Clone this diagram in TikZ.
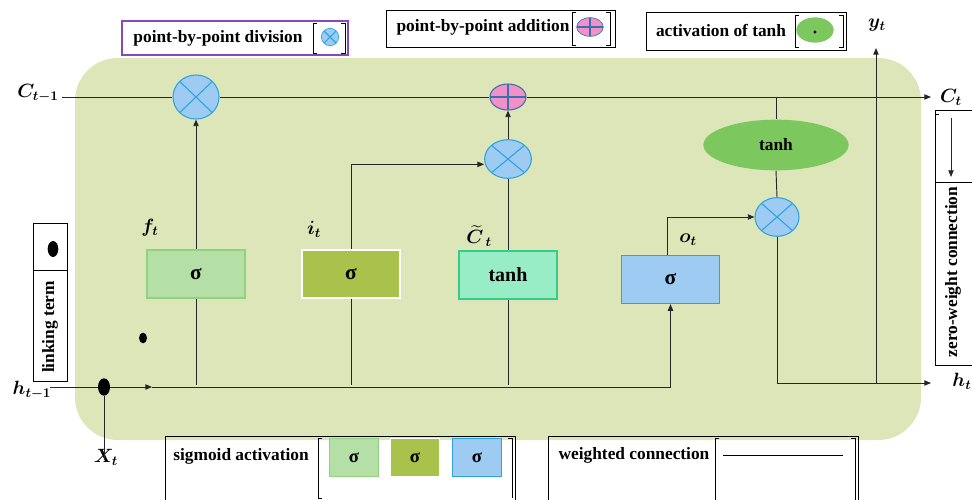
\documentclass[tikz,border=0pt]{standalone}
\usepackage{amsmath}
\usepackage{fontspec}
\setmainfont{Liberation Serif}
\usetikzlibrary{arrows.meta,shapes.geometric}
\definecolor{bgc}{HTML}{DCE6B9}
\definecolor{bfill}{HTML}{9DCBF2}
\definecolor{bline}{HTML}{2FA3E0}
\definecolor{pinkc}{HTML}{F290C8}
\definecolor{pinkl}{HTML}{3A70B0}
\definecolor{tgreen}{HTML}{7CC75E}
\definecolor{ffill}{HTML}{B4E0A8}
\definecolor{fline}{HTML}{8FD47C}
\definecolor{ifill}{HTML}{A9C24B}
\definecolor{cfill}{HTML}{98EDC6}
\definecolor{cline}{HTML}{33CC88}
\definecolor{purp}{HTML}{8848B8}
\newcommand\sig{{\bfseries σ}}
\tikzset{
  x=0.75pt, y=-0.75pt,
  conn/.style={line width=0.7pt, black!85},
  arr/.style={conn, -{Triangle[length=5pt,width=4pt]}},
  mult/.style={ellipse, draw=bline, fill=bfill, line width=0.8pt, inner sep=0pt,
    path picture={\draw[bline, line width=0.8pt] (path picture bounding box.north west) -- (path picture bounding box.south east)
      (path picture bounding box.north east) -- (path picture bounding box.south west);}},
  addn/.style={ellipse, draw=pinkl, fill=pinkc, line width=0.8pt, inner sep=0pt,
    path picture={\draw[pinkl, line width=0.8pt] (path picture bounding box.north) -- (path picture bounding box.south)
      (path picture bounding box.west) -- (path picture bounding box.east);}},
  gate/.style={rectangle, minimum width=73.5pt, minimum height=36pt, inner sep=0pt, line width=0.9pt,
    font=\fontsize{16}{18}\selectfont\bfseries},
  lbl/.style={font=\fontsize{14}{16}\selectfont, inner sep=0pt},
  leg/.style={font=\fontsize{13}{15}\selectfont\bfseries, inner sep=0pt},
  dotn/.style={ellipse, fill=black, inner sep=0pt},
}
\begin{document}
\begin{tikzpicture}
\useasboundingbox (0,0) rectangle (972,500);
% background
\fill[bgc, rounded corners=32pt] (75,58) rectangle (921,440);

% operators
\node[mult, minimum width=34.5pt, minimum height=33pt] (m1) at (196,97) {};
\node[addn, minimum width=27pt, minimum height=19.5pt] (add) at (508,97) {};
\node[mult, minimum width=35pt, minimum height=29pt] (m2) at (508,159) {};
\node[mult, minimum width=33pt, minimum height=29pt] (m3) at (777,217) {};
\node[ellipse, fill=tgreen, minimum width=109pt, minimum height=38pt, inner sep=0pt,
  font=\fontsize{13}{15}\selectfont\bfseries] (tanhE) at (776,145) {tanh};

% gates
\node[gate, fill=ffill, draw=fline] (fbox) at (196,274) {\sig};
\node[gate, fill=ifill, draw=white] (ibox) at (351,274) {\sig};
\node[gate, fill=cfill, draw=cline, font=\fontsize{15}{17}\selectfont\bfseries] (cbox) at (508,275) {tanh};
\node[gate, fill=bfill, draw=bline] (obox) at (670.5,279.5) {\sig};

% labels
\node[lbl] (lC1) at (38,93) {$\boldsymbol{C_{t-1}}$};
\node[lbl] (lCt) at (951,97) {$\boldsymbol{C_{t}}$};
\node[lbl] (lh1) at (32,390) {$\boldsymbol{h_{t-1}}$};
\node[lbl] (lht) at (962,381) {$\boldsymbol{h_{t}}$};
\node[lbl] (lyt) at (877,25) {$\boldsymbol{y_{t}}$};
\node[lbl] (lXt) at (106,457) {$\boldsymbol{X_{t}}$};
\node[lbl] (lft) at (150,228) {$\boldsymbol{f_{t}}$};
\node[lbl] (lit) at (314,229) {$\boldsymbol{i_{t}}$};
\node[lbl] (lct) at (479,236) {$\boldsymbol{\widetilde{C}}_{\,\boldsymbol{t}}$};
\node[lbl] (lot) at (688,240) {$\boldsymbol{o_{t}}$};

% coordinates
\coordinate (Cin) at (62,97);
\coordinate (Cout) at (931,97);
\coordinate (hin) at (50,387);
\coordinate (harr) at (152,387);
\coordinate (hcorner) at (670,385);
\coordinate (hc2) at (777,383);
\coordinate (hout) at (931,383);
\coordinate (yb) at (876,383);
\coordinate (ytop) at (876,48);
\coordinate (xb) at (104,460);
\coordinate (tk) at (776,97);
\node[dotn, minimum width=9pt, minimum height=13pt] (dot) at (104,387) {};
\node[dotn, minimum width=6pt, minimum height=8pt] (sdot) at (143,338) {};

% cell state line
\draw[conn] (Cin) -- (m1);
\draw[conn] (m1) -- (add);
\draw[arr] (add) -- (Cout);
\draw[conn] (tk) -- (tanhE.north);

% hidden input line
\draw[conn] (hin) -- (dot);
\draw[arr] (dot) -- (harr);
\draw[arr] (harr) -| (obox.south);
\draw[conn] (dot) -- (xb);

% forget gate
\draw[conn] (fbox.south) -- (fbox.south |- hcorner);
\draw[arr] (fbox.north) -- (m1.south);
% input gate
\draw[conn] (ibox.south) -- (ibox.south |- hcorner);
\draw[arr] (ibox.north) |- ([yshift=-4pt]m2.west);
% candidate
\draw[conn] (cbox.south) -- (cbox.south |- hcorner);
\draw[conn] (cbox.north) -- (m2.south);
\draw[arr] (m2.north) -- (add.south);
% output gate
\draw[arr] ([xshift=-2pt]obox.north) |- (m3.west);
\draw[conn] (tanhE.south) -- (m3.north);
\draw[conn] (m3.south) -- (hc2);
\draw[arr] (hc2) -- (hout);
\draw[arr] (yb) -- (ytop);

% ---- legends ----
% point-by-point division
\draw[purp, line width=0.8pt] (122,21) rectangle (348,55);
\node[leg] (tdiv) at (218,38) {point-by-point division};
\draw[line width=0.6pt] (317,23) -- (313,23) -- (313,53) -- (317,53);
\draw[line width=0.6pt] (341,23) -- (345,23) -- (345,53) -- (341,53);
\node[mult, minimum width=13pt, minimum height=13pt, line width=0.5pt] (ldiv) at (330,37) {};

% point-by-point addition
\draw[line width=0.7pt] (386,10) rectangle (615,47);
\node[leg] (tadd) at (483,27) {point-by-point addition};
\draw[line width=0.6pt] (576,12) -- (572,12) -- (572,45) -- (576,45);
\draw[line width=0.6pt] (606,12) -- (610,12) -- (610,45) -- (606,45);
\node[addn, minimum width=20pt, minimum height=14pt, line width=0.5pt] (ladd) at (590,27) {};

% activation of tanh
\draw[line width=0.7pt] (646,12) rectangle (846,50);
\node[leg] (ttanh) at (721,30) {activation of tanh};
\draw[line width=0.6pt] (799,15) -- (795,15) -- (795,47) -- (799,47);
\draw[line width=0.6pt] (839,15) -- (843,15) -- (843,47) -- (839,47);
\node[ellipse, fill=tgreen, minimum width=28pt, minimum height=19pt, inner sep=0pt] (ltanh) at (815,30) {};
\node[dotn, minimum width=2.5pt, minimum height=2.5pt] (ltdot) at (815,32) {};

% sigmoid activation
\draw[line width=0.7pt] (165,501) -- (165,436) -- (515,436) -- (515,501);
\node[leg] (tsig) at (241,456) {sigmoid activation};
\draw[line width=0.6pt] (322,438) -- (318,438) -- (318,498) -- (322,498);
\draw[line width=0.6pt] (508,438) -- (512,438) -- (512,498);
\node[gate, fill=ffill, draw=fline, minimum width=37pt, minimum height=29pt, line width=0.6pt,
  font=\fontsize{14}{16}\selectfont\bfseries, text depth=-7pt] (ls1) at (354,457.5) {\sig};
\node[gate, fill=ifill, draw=white, minimum width=37pt, minimum height=29pt, line width=0.6pt,
  font=\fontsize{14}{16}\selectfont\bfseries] (ls2) at (415,457.5) {\sig};
\node[gate, fill=bfill, draw=bline, minimum width=37pt, minimum height=29pt, line width=0.6pt,
  font=\fontsize{14}{16}\selectfont\bfseries, text depth=-7pt] (ls3) at (477,457.5) {\sig};

% weighted connection
\draw[line width=0.7pt] (548,501) -- (548,436) -- (858,436) -- (858,501);
\node[leg] (twc) at (634,455) {weighted connection};
\draw[line width=0.6pt] (719,438) -- (715,438) -- (715,501);
\draw[line width=0.6pt] (851,438) -- (855,438) -- (855,501);
\coordinate (wa) at (723,455);
\coordinate (wb) at (843,455);
\draw[line width=0.6pt] (wa) -- (wb);

% linking term
\draw[line width=0.7pt] (33,223) rectangle (67,381);
\draw[line width=0.6pt] (33,270) -- (67,270);
\draw[line width=0.6pt] (33,266) -- (33,272);
\node[dotn, minimum width=8pt, minimum height=12pt] (ldot) at (53,249) {};
\node[leg, rotate=90] (tlink) at (50,327) {linking term};

% zero-weight connection
\draw[line width=0.7pt] (973,110) -- (935,110) -- (935,365) -- (973,365);
\draw[line width=0.6pt] (935,114) -- (939,114);
\draw[line width=0.6pt] (935,182) -- (972,182);
\coordinate (za) at (951,118);
\coordinate (zb) at (951,177);
\draw[arr, line width=0.6pt] (za) -- (zb);
\node[leg, rotate=90] (tzero) at (953,272) {zero-weight connection};
\end{tikzpicture}
\end{document}
